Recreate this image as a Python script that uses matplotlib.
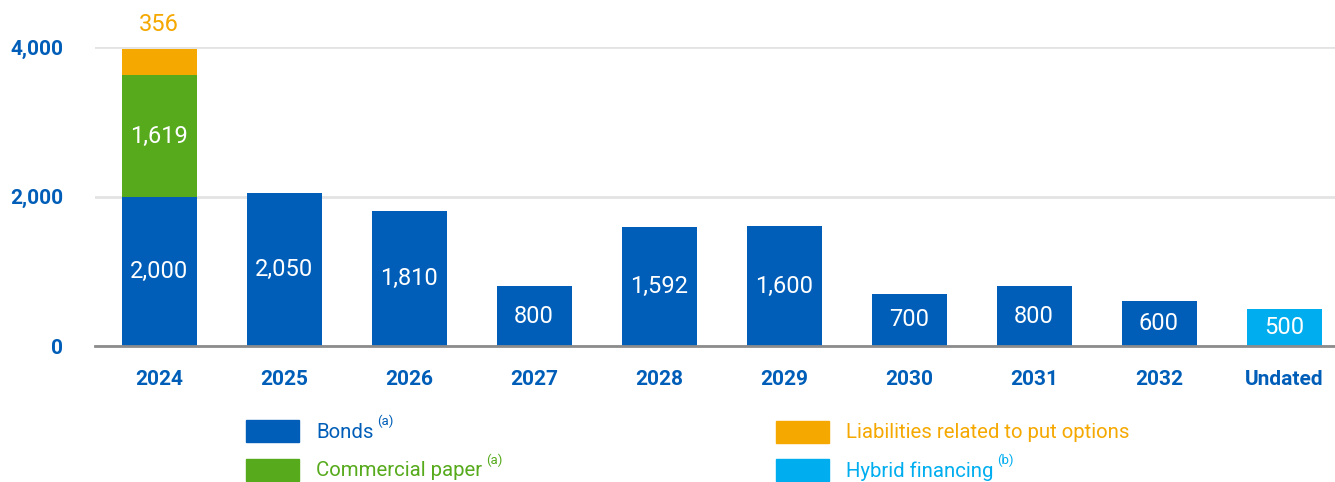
import matplotlib
matplotlib.use("Agg")
import matplotlib.pyplot as plt
import numpy as np
from matplotlib.patches import Rectangle

categories = ["2024", "2025", "2026", "2027", "2028", "2029", "2030", "2031", "2032", "Undated"]
bonds = [2000, 2050, 1810, 800, 1592, 1600, 700, 800, 600, 0]
commercial_paper = [1619, 0, 0, 0, 0, 0, 0, 0, 0, 0]
put_options = [356, 0, 0, 0, 0, 0, 0, 0, 0, 0]
hybrid = [0, 0, 0, 0, 0, 0, 0, 0, 0, 500]
yticks = [0, 2000, 4000]

C_BOND = "#005EB8"
C_CP = "#56AA1C"
C_PUT = "#F5A800"
C_HYB = "#00AEEF"

FONT = ["Roboto", "DejaVu Sans"]
plt.rcParams["font.family"] = FONT

W, H = 1335, 482
fig = plt.figure(figsize=(W / 100, H / 100), dpi=100)
ax = fig.add_axes([95 / W, 1 - 346 / H, (1335 - 95) / W, (346 - 47) / H])

x = np.arange(len(categories))
bw = 0.6
b = np.array(bonds, float)
c = np.array(commercial_paper, float)
p = np.array(put_options, float)
h = np.array(hybrid, float)

ax.bar(x, b, bw, color=C_BOND, zorder=3)
ax.bar(x, c, bw, bottom=b, color=C_CP, zorder=3)
ax.bar(x, p, bw, bottom=b + c, color=C_PUT, zorder=3)
ax.bar(x, h, bw, bottom=b + c + p, color=C_HYB, zorder=3)

def fmt(v):
    return f"{int(v):,}"

VS = 17
for i in range(len(x)):
    if b[i] > 0:
        ax.text(x[i], b[i] / 2, fmt(b[i]), ha="center", va="center", color="white", fontsize=VS, zorder=4)
    if c[i] > 0:
        ax.text(x[i], b[i] + c[i] / 2, fmt(c[i]), ha="center", va="center", color="white", fontsize=VS, zorder=4)
    if p[i] > 0:
        ax.text(x[i], b[i] + c[i] + p[i] + 330, fmt(p[i]), ha="center", va="center", color=C_PUT,
                fontsize=VS, zorder=4, clip_on=False)
    if h[i] > 0:
        ax.text(x[i], b[i] + c[i] + p[i] + h[i] / 2, fmt(h[i]), ha="center", va="center", color="white",
                fontsize=VS, zorder=4)

ax.set_xlim(-0.512, 9.408)
ax.set_ylim(0, 4000)
ax.set_yticks(yticks)
ax.set_yticklabels([fmt(v) for v in yticks])
ax.set_xticks(x)
ax.set_xticklabels(categories)
for lab in ax.get_yticklabels() + ax.get_xticklabels():
    lab.set_color(C_BOND)
    lab.set_fontweight("bold")
    lab.set_fontsize(15)
ax.tick_params(axis="y", length=0, pad=23)
ax.tick_params(axis="x", length=0, pad=17)
ax.yaxis.grid(True, color="#E3E3E3", linewidth=2, zorder=0)
ax.set_axisbelow(True)
for s in ["top", "right", "left"]:
    ax.spines[s].set_visible(False)
ax.spines["bottom"].set_color("#8C8C8C")
ax.spines["bottom"].set_linewidth(2)
ax.spines["bottom"].set_zorder(5)

# Legend
legend_items = [
    (246, 431, C_BOND, "Bonds", "(a)"),
    (246, 470, C_CP, "Commercial paper", "(a)"),
    (776, 432, C_PUT, "Liabilities related to put options", None),
    (776, 470, C_HYB, "Hybrid financing", "(b)"),
]
fig.canvas.draw()
renderer = fig.canvas.get_renderer()
for px, py, col, label, sup in legend_items:
    fig.patches.append(Rectangle((px / W, 1 - (py + 11) / H), 53 / W, 22 / H,
                                 transform=fig.transFigure, color=col))
    t = fig.text((px + 70) / W, 1 - (py + 1) / H, label, color=col, fontsize=14.7, va="center", ha="left")
    if sup:
        bb = t.get_window_extent(renderer)
        fig.text(bb.x1 / W + 4 / W, 1 - (py - 10) / H, sup, color=col, fontsize=9.5, va="center", ha="left")

fig.savefig("out.png", dpi=100)
